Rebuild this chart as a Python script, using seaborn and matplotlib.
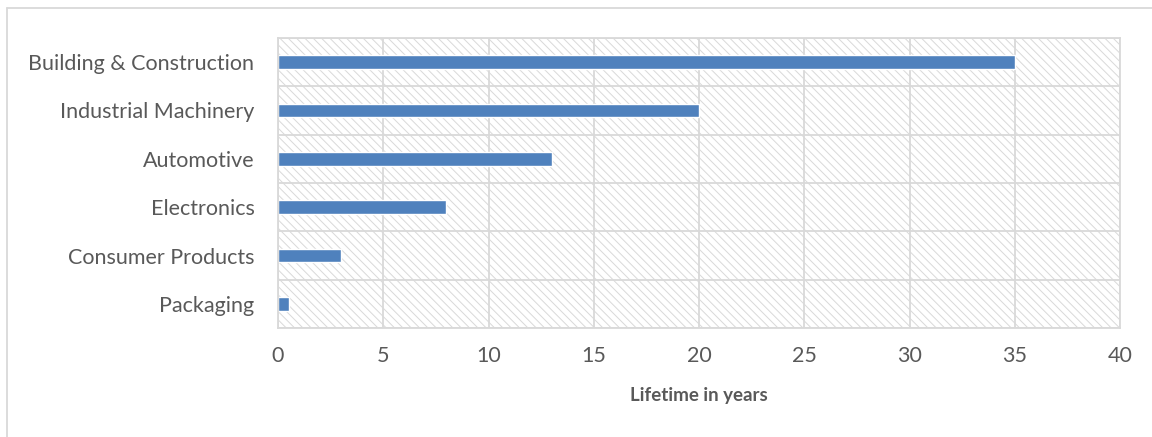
import matplotlib
matplotlib.use("Agg")
import matplotlib.pyplot as plt
from matplotlib.lines import Line2D
import pandas as pd
import seaborn as sns

# Data
sectors = ['Building & Construction',
           'Industrial Machinery',
           'Automotive',
           'Electronics',
           'Consumer Products',
           'Packaging']
lifetimes = [35, 20, 13, 8, 3, 0.5]
x_ticks = [0, 5, 10, 15, 20, 25, 30, 35, 40]

df = pd.DataFrame({'Sector': sectors, 'Lifetime': lifetimes})

sns.set_style("white")
plt.rcParams['font.family'] = ['Lato', 'DejaVu Sans']
plt.rcParams['hatch.linewidth'] = 0.7

grid_col = '#D9D9D9'
text_col = '#595959'

fig = plt.figure(figsize=(11.52, 4.37), dpi=100)
ax = fig.add_axes([278 / 1152, 1 - 328 / 437, (1120 - 278) / 1152, (328 - 38) / 437])

# hatched plot area
ax.patch.set_facecolor('white')
ax.patch.set_hatch('\\\\\\\\')
ax.patch.set_edgecolor(grid_col)

sns.barplot(data=df, y='Sector', x='Lifetime', order=sectors,
            color='#4F81BD', saturation=1, width=0.28, orient='h', ax=ax)

ax.set_xlim(0, 40)
ax.set_ylim(len(sectors) - 0.5, -0.5)
ax.set_xticks(x_ticks)
ax.set_yticks([i - 0.5 for i in range(len(sectors) + 1)], minor=True)
ax.grid(axis='x', which='major', color=grid_col, linewidth=1.3)
ax.grid(axis='y', which='minor', color=grid_col, linewidth=1.3)
ax.set_axisbelow(True)

for s in ax.spines.values():
    s.set_visible(True)
    s.set_color(grid_col)
    s.set_linewidth(1.3)

ax.tick_params(axis='both', which='both', length=0, labelsize=15.5, labelcolor=text_col)
ax.tick_params(axis='y', pad=17)
ax.tick_params(axis='x', pad=13)
ax.set_ylabel('')
ax.set_xlabel('Lifetime in years', fontsize=13.5, fontweight='bold',
              color=text_col, labelpad=15)

# outer chart border (left and top edges visible)
fig.add_artist(Line2D([6.5 / 1152, 6.5 / 1152], [0, 1 - 8 / 437], color=grid_col, lw=1.3))
fig.add_artist(Line2D([6.5 / 1152, 1], [1 - 8 / 437, 1 - 8 / 437], color=grid_col, lw=1.3))

plt.savefig('out.png', dpi=100)
